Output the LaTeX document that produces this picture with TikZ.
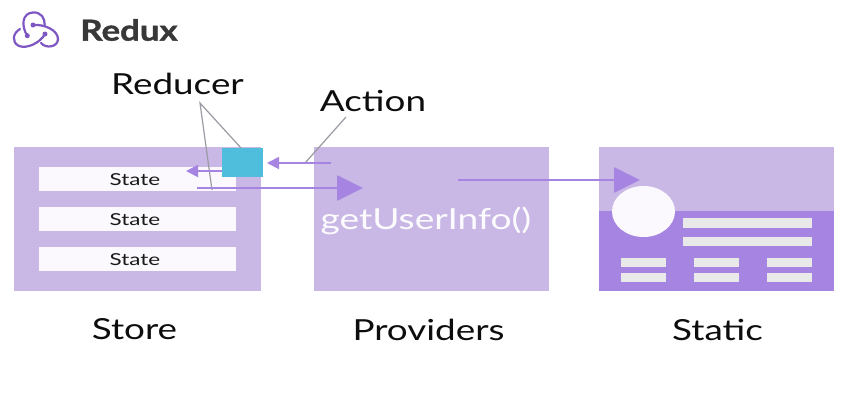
\documentclass[tikz,border=0pt]{standalone}
\usepackage{fontspec}
\setmainfont{Lato}
\newfontfamily\heavyf[BoldFeatures={FakeBold=1.2}]{Lato}
\usetikzlibrary{arrows.meta}
\definecolor{lilac}{HTML}{C9B8E6}
\definecolor{violet2}{HTML}{A685E2}
\definecolor{teal2}{HTML}{4FBEDC}
\definecolor{bar}{HTML}{E9E9E9}
\definecolor{state}{HTML}{FBF9FE}
\definecolor{lead}{HTML}{9A9AA2}
\definecolor{logo}{HTML}{7E57C2}
\tikzset{
 x=1pt,y=-1pt,
 panel/.style={fill=lilac,draw=none,minimum width=#1,minimum height=144pt,inner sep=0,outer sep=0,anchor=north west},
 stateb/.style={fill=state,draw=none,minimum width=197pt,minimum height=24pt,inner sep=0,anchor=north west},
 statetext/.style={font=\fontsize{16.5}{18}\selectfont,text=black!90,inner sep=0,xscale=1.36,transform shape},
 captext/.style={font=\fontsize{29}{32}\selectfont,text=black!95,inner sep=0,xscale=1.27,transform shape},
 thin arrow/.style={draw=violet2,line width=1.8pt,-{Triangle[length=12pt,width=12pt]}},
 big arrow/.style={draw=violet2,line width=2.8pt,-{Triangle[length=26pt,width=25pt]}},
 leader/.style={draw=lead,line width=1.2pt},
 logoline/.style={draw=logo,line width=2.2pt,line cap=round},
}
\begin{document}
\begin{tikzpicture}
\useasboundingbox (0,0) rectangle (850,400);
\fill[white] (0,0) rectangle (850,400);
% panels
\node[panel=247pt] (store) at (14,147) {};
\node[panel=235pt] (prov) at (314,147) {};
\node[panel=235pt] (static) at (599,147) {};
\fill[violet2] (599,211) rectangle (834,291);
% states
\node[stateb] (s1) at (39,167) {};
\node[stateb] (s2) at (39,207) {};
\node[stateb] (s3) at (39,247) {};
\node[statetext] (t1) at (135,180) {State};
\node[statetext] (t2) at (135,220) {State};
\node[statetext] (t3) at (135,260) {State};
% static content
\fill[state] (643.5,211.5) ellipse [x radius=31.5,y radius=25.5];
\foreach \y/\h in {218/10,237/9}{\fill[bar] (683,\y) rectangle (812,\y+\h);}
\foreach \x in {621,694,767}{
 \fill[bar] (\x,258) rectangle (\x+45,267);
 \fill[bar] (\x,273) rectangle (\x+45,282);
}
% reducer square
\node[fill=teal2,draw=none,minimum width=41pt,minimum height=29pt,inner sep=0,outer sep=0,anchor=north west] (red) at (222,148) {};
% labels
\node[text=white!95!lilac,font=\fontsize{29}{32}\selectfont,inner sep=0,xscale=1.28,transform shape] (gui) at (426,220.5) {getUserInfo()};
\node[captext] (lstore) at (134.5,329.5) {Store};
\node[captext] (lprov) at (428.5,329.5) {Providers};
\node[captext] (lstat) at (717.5,329.5) {Static};
\node[captext] (lred) at (177.5,83.5) {Reducer};
\node[captext] (lact) at (373,100.5) {Action};
\node[font=\heavyf\bfseries\fontsize{29}{32}\selectfont,text=black!78,inner sep=0,xscale=1.2,transform shape] (ttl) at (129,30) {Redux};
% logo
\draw[logoline] (27.3,35.7) .. controls (21,26) and (22,13) .. (33,12.5) .. controls (41,12) and (45,18) .. (44.7,25);
\draw[logoline] (33,25) .. controls (44,24) and (58,30) .. (58,39) .. controls (58,47) and (46,49) .. (41,43);
\draw[logoline] (45,34) .. controls (40,43) and (27,49) .. (19,46) .. controls (11,42) and (13,33) .. (20,29);
\fill[logo] (33,25) circle (2.5) (27.3,35.7) circle (2.5) (45,34) circle (2.5);
% coordinates
\coordinate (apex) at (200,103);
\coordinate (a1) at (241,148);
\coordinate (a2) at (212,190);
\coordinate (act0) at (346,117);
\coordinate (act1) at (305,163);
\coordinate (e1) at (331,163);
\coordinate (e2) at (267,163);
\coordinate (e3) at (186,171);
\coordinate (e4) at (197,188);
\coordinate (e5) at (363,188);
\coordinate (e6) at (458,180);
\coordinate (e7) at (640,180);
% leaders
\draw[leader] (a1) -- (apex) -- (a2);
\draw[leader] (act0) -- (act1);
% arrows
\draw[thin arrow] (e1) -- (e2);
\draw[thin arrow] (red.west |- e3) -- (e3);
\draw[big arrow] (e4) -- (e5);
\draw[big arrow] (e6) -- (e7);
\end{tikzpicture}
\end{document}
